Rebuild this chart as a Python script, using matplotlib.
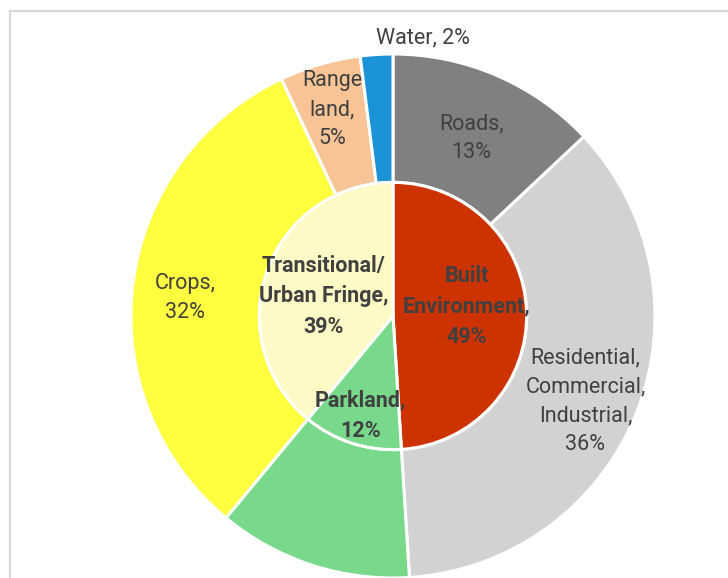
import numpy as np
import matplotlib
matplotlib.use("Agg")
import matplotlib.pyplot as plt
from matplotlib.lines import Line2D

plt.rcParams["font.family"] = ["Roboto", "DejaVu Sans"]

# outer ring: land use detail
outer_labels = ["Roads", "Residential,\nCommercial,\nIndustrial", "Parkland", "Crops", "Range\nland", "Water"]
outer_values = [13, 36, 12, 32, 5, 2]
outer_colors = ["#808080", "#d2d2d2", "#78d98b", "#ffff40", "#f8c496", "#1b93d6"]
outer_show = [True, True, False, True, True, True]

# inner pie: broad category
inner_labels = ["Built\nEnvironment", "Parkland", "Transitional/\nUrban Fringe"]
inner_values = [49, 12, 39]
inner_colors = ["#cc3300", "#78d98b", "#fdfac6"]

text_color = "#404040"

fig = plt.figure(figsize=(7.28, 5.78), dpi=100)
ax = fig.add_axes([0, 0, 1, 1])

R = 1.0
r_in = 0.51
wedge_kw = dict(edgecolor="white", linewidth=2.2)

outer, _ = ax.pie(outer_values, radius=R, colors=outer_colors, startangle=90,
                  counterclock=False, wedgeprops=dict(width=R - r_in, **wedge_kw))
inner, _ = ax.pie(inner_values, radius=r_in, colors=inner_colors, startangle=90,
                  counterclock=False, wedgeprops=wedge_kw)

# label placement: radius along wedge mid angle, plus small nudges
outer_rad = [0.755, 0.79, 0.8, 0.8, 0.83, 1.065]
outer_nudge = [(0, -0.015), (0.0, -0.035), (0, 0), (0, -0.03), (0, -0.01), (0.18, 0)]
inner_rad = [0.28, 0.40, 0.28]
inner_nudge = [(0, 0.027), (0.0, 0), (0, -0.02)]


def mid_xy(w, rad, nudge):
    a = np.deg2rad((w.theta1 + w.theta2) / 2)
    return rad * np.cos(a) + nudge[0], rad * np.sin(a) + nudge[1]


for w, lab, v, rad, nd, show in zip(outer, outer_labels, outer_values, outer_rad, outer_nudge, outer_show):
    if not show:
        continue
    x, y = mid_xy(w, rad, nd)
    txt = f"{lab}, {v}%" if lab == "Water" else f"{lab},\n{v}%"
    ax.text(x, y, txt, ha="center", va="center", fontsize=15.5, color=text_color,
            linespacing=1.5)

for w, lab, v, rad, nd in zip(inner, inner_labels, inner_values, inner_rad, inner_nudge):
    x, y = mid_xy(w, rad, nd)
    ax.text(x, y, f"{lab},\n{v}%", ha="center", va="center", fontsize=15.5,
            fontweight="bold", color=text_color, linespacing=1.5)

# view: centre at (393, 316) px, radius 262 px
ax.set_xlim(-393 / 262, (728 - 393) / 262)
ax.set_ylim(-(578 - 316) / 262, 316 / 262)
ax.set_aspect("equal")
ax.axis("off")

# chart area border (cut off at right/bottom)
fig.add_artist(Line2D([10 / 728, 1], [1 - 11 / 578, 1 - 11 / 578], color="#d9d9d9", lw=1.6,
                      transform=fig.transFigure))
fig.add_artist(Line2D([10 / 728, 10 / 728], [0, 1 - 11 / 578], color="#d9d9d9", lw=1.6,
                      transform=fig.transFigure))

fig.savefig("out.png", dpi=100)
